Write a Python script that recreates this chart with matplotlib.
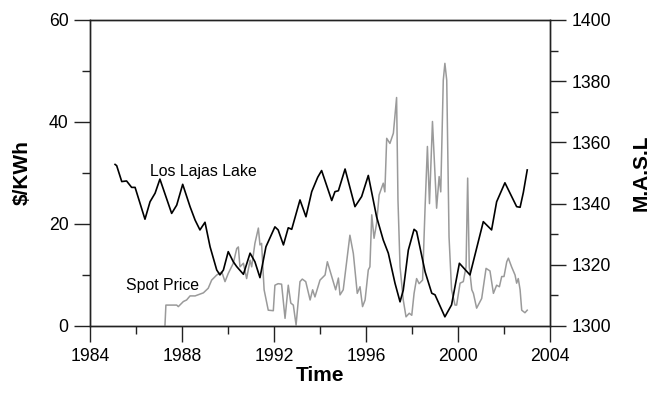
import matplotlib
matplotlib.use("Agg")
import matplotlib.pyplot as plt
from matplotlib.ticker import MultipleLocator

plt.rcParams['font.family'] = ['Liberation Sans', 'DejaVu Sans']

# Los Lajas Lake level (m.a.s.l.)
lake_year = [1985.09, 1985.16, 1985.38, 1985.59, 1985.81, 1985.96, 1986.39, 1986.61,
             1986.83, 1987.04, 1987.55, 1987.77, 1988.03, 1988.35, 1988.57, 1988.78,
             1989.00, 1989.22, 1989.51, 1989.65, 1989.80, 1990.01, 1990.23, 1990.38,
             1990.67, 1990.96, 1991.17, 1991.39, 1991.65, 1992.04, 1992.18, 1992.41,
             1992.62, 1992.77, 1993.13, 1993.39, 1993.64, 1993.90, 1994.07, 1994.51, 1994.65,
             1994.80, 1995.09, 1995.52, 1995.81, 1996.10, 1996.46, 1996.75, 1996.97,
             1997.26, 1997.48, 1997.62, 1997.84, 1998.09, 1998.20, 1998.57, 1998.86,
             1999.00, 1999.43, 1999.72, 2000.06, 2000.52, 2000.81, 2001.10, 2001.46,
             2001.68, 2002.04, 2002.55, 2002.70, 2002.84, 2003.01]
lake_masl = [1352.8, 1352.4, 1347.2, 1347.4, 1345.3, 1345.3, 1334.9, 1340.6,
             1343.4, 1348.0, 1336.8, 1339.5, 1346.3, 1339.0, 1334.6, 1331.4,
             1333.9, 1325.9, 1318.3, 1316.7, 1318.3, 1324.3, 1321.0, 1319.4,
             1316.9, 1323.8, 1321.0, 1315.8, 1325.9, 1332.4, 1331.4, 1326.5,
             1332.1, 1331.6, 1341.2, 1335.7, 1343.9, 1348.6, 1350.8, 1341.0, 1343.9,
             1344.2, 1351.3, 1339.0, 1342.3, 1349.2, 1335.7, 1328.1, 1323.8,
             1314.0, 1307.9, 1311.7, 1324.8, 1331.6, 1330.9, 1317.7, 1310.7,
             1310.2, 1303.0, 1306.9, 1320.5, 1316.7, 1325.4, 1334.1, 1331.4,
             1340.6, 1346.8, 1339.0, 1338.8, 1343.6, 1351.0]

# Spot price ($/KWh)
spot_year = [1987.26, 1987.30, 1987.77, 1987.84, 1988.06, 1988.20, 1988.35, 1988.57,
             1988.93, 1989.14, 1989.29, 1989.51, 1989.73, 1989.87, 1990.01, 1990.23,
             1990.38, 1990.45, 1990.52, 1990.67, 1990.81, 1990.96, 1991.03, 1991.17,
             1991.32, 1991.39, 1991.46, 1991.57, 1991.75, 1991.97, 1992.04, 1992.18,
             1992.33, 1992.48, 1992.62, 1992.73, 1992.84, 1992.96, 1993.13, 1993.23,
             1993.38, 1993.57, 1993.68, 1993.78, 1994.00, 1994.22, 1994.32, 1994.51,
             1994.68, 1994.80, 1994.87, 1995.01, 1995.30, 1995.45, 1995.62, 1995.74,
             1995.85, 1995.96, 1996.10, 1996.17, 1996.25, 1996.35, 1996.46, 1996.57,
             1996.75, 1996.82, 1996.90, 1997.04, 1997.19, 1997.33, 1997.39, 1997.48,
             1997.62, 1997.74, 1997.88, 1997.99, 1998.09, 1998.20, 1998.31, 1998.46,
             1998.57, 1998.67, 1998.76, 1998.89, 1999.07, 1999.18, 1999.25, 1999.36,
             1999.43, 1999.51, 1999.61, 1999.72, 1999.87, 1999.94, 2000.09, 2000.23,
             2000.35, 2000.42, 2000.49, 2000.60, 2000.67, 2000.81, 2001.03, 2001.22,
             2001.32, 2001.39, 2001.54, 2001.68, 2001.80, 2001.90, 2002.00, 2002.12,
             2002.19, 2002.33, 2002.48, 2002.55, 2002.62, 2002.70, 2002.77, 2002.91,
             2003.01]
spot_price = [0.2, 4.1, 4.1, 3.8, 4.8, 5.1, 5.9, 5.9,
              6.5, 7.4, 9.0, 10.0, 10.6, 8.7, 10.3, 12.3,
              15.2, 15.5, 11.6, 12.3, 9.3, 12.9, 11.6, 16.2,
              19.2, 15.9, 16.2, 7.1, 3.1, 3.0, 8.0, 8.3,
              8.2, 1.5, 8.0, 4.5, 4.1, 0.2, 8.7, 9.2,
              8.7, 5.1, 7.1, 5.7, 9.0, 10.0, 12.6, 9.7,
              7.1, 9.4, 6.1, 7.1, 17.8, 14.2, 6.4, 7.7,
              3.8, 5.1, 11.0, 11.6, 21.8, 17.2, 20.1, 25.7,
              28.0, 26.3, 36.8, 35.8, 37.8, 44.8, 24.7, 11.6,
              5.1, 1.8, 2.5, 2.1, 6.4, 9.3, 8.3, 9.0,
              23.4, 35.2, 24.0, 40.1, 23.1, 29.3, 26.3, 48.2,
              51.5, 48.2, 17.5, 7.1, 4.1, 4.1, 8.4, 8.7,
              11.6, 29.0, 11.6, 7.1, 6.4, 3.5, 5.4, 11.3,
              11.0, 10.8, 6.4, 8.0, 7.7, 9.7, 9.7, 12.6,
              13.3, 11.6, 10.0, 8.4, 9.3, 7.1, 3.1, 2.6,
              3.1]

fig = plt.figure(figsize=(6.56, 3.95), dpi=100)
ax1 = fig.add_axes([90/656, 69/395, 460/656, 306/395])
ax2 = ax1.twinx()

ax1.plot(spot_year, spot_price, color='#9a9a9a', lw=1.1, zorder=2)
ax2.plot(lake_year, lake_masl, color='black', lw=1.2, zorder=3)

ax1.set_xlim(1984, 2004)
ax1.set_ylim(0, 60)
ax2.set_ylim(1300, 1400)

ax1.xaxis.set_major_locator(MultipleLocator(4))
ax1.xaxis.set_minor_locator(MultipleLocator(2))
ax1.yaxis.set_major_locator(MultipleLocator(20))
ax1.yaxis.set_minor_locator(MultipleLocator(10))
ax2.yaxis.set_major_locator(MultipleLocator(20))
ax2.yaxis.set_minor_locator(MultipleLocator(10))

for ax in (ax1, ax2):
    ax.tick_params(which='major', direction='out', length=11.5, width=1.0,
                   labelsize=12.7, pad=4, color='#222222')
    ax.tick_params(which='minor', direction='out', length=6, width=1.0, color='#222222')
    for s in ax.spines.values():
        s.set_linewidth(1.0)
        s.set_color('#222222')

ax1.set_xlabel('Time', fontsize=15, fontweight='bold', labelpad=1)
ax1.set_ylabel('$/KWh', fontsize=15, fontweight='bold', labelpad=12)
ax2.set_ylabel('M.A.S.L', fontsize=15, fontweight='bold', labelpad=15)

ax1.text(1986.61, 30.2, 'Los Lajas Lake', fontsize=11.4, va='center', ha='left')
ax1.text(1985.55, 8.0, 'Spot Price', fontsize=11.4, va='center', ha='left')

fig.savefig('out.png', dpi=100)
